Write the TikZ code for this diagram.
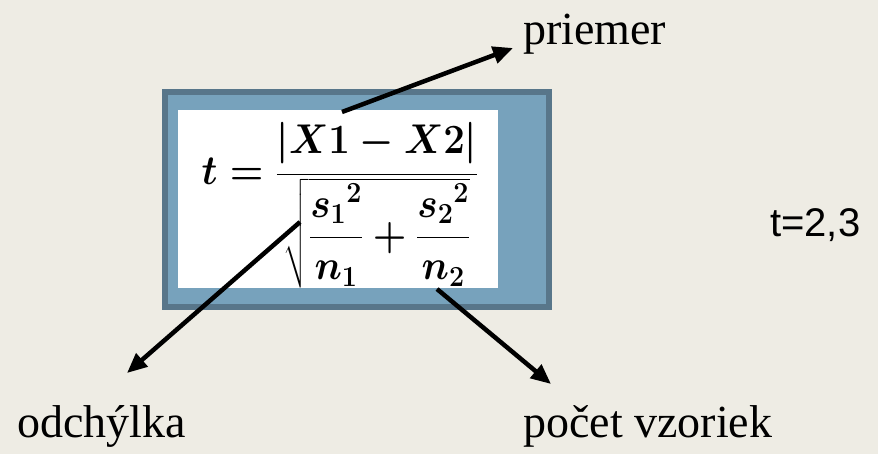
\RequirePackage{fix-cm}
\documentclass[tikz,border=0pt]{standalone}
\usepackage{amsmath}
\usepackage[no-math]{fontspec}
\setmainfont{Liberation Serif}
\newfontfamily\arialfont{Liberation Sans}
\usepackage{xcolor}
\usetikzlibrary{arrows.meta}
\definecolor{bg}{HTML}{EEECE4}
\definecolor{panelfill}{HTML}{77A2BC}
\definecolor{panelline}{HTML}{58768A}
\newcommand{\tformula}{\ensuremath{\displaystyle t=\frac{\lvert X1-X2\rvert}{\sqrt{\dfrac{{s_1}^2}{n_1}+\dfrac{{s_2}^2}{n_2}}}}}
\begin{document}
\begin{tikzpicture}[x=1pt,y=-1pt,lbl/.style={font=\fontsize{46}{50}\selectfont,inner sep=0pt,anchor=base west},arr/.style={line width=4.5pt,-{Triangle[length=20pt,width=17pt]}}]
\useasboundingbox[fill=bg] (0,0) rectangle (878,454);
\node[draw=panelline,line width=6pt,fill=panelfill,minimum width=384pt,minimum height=215pt,inner sep=0pt] (panel) at (357,199.5) {};
\node[fill=white,minimum width=320pt,minimum height=178pt,inner sep=0pt] (card) at (338,199) {};
\node[inner sep=0pt,anchor=base,xscale=0.96,yscale=1.04,font=\fontsize{40}{48}\selectfont\boldmath] (formula) at (340,185) {\tformula};
\node[lbl] (priemer) at (523,45) {priemer};
\node[lbl] (odch) at (17,437) {odchýlka};
\node[lbl] (pocet) at (523,437) {počet vzoriek};
\node[inner sep=0pt,anchor=base west,font=\arialfont\fontsize{40}{44}\selectfont] (tval) at (770,237) {t=2,3};
% arrow ends
\coordinate (a1) at (342,112);
\coordinate (b1) at (513,48);
\coordinate (a2) at (300,222);
\coordinate (b2) at (127,373);
\coordinate (a3) at (437,289);
\coordinate (b3) at (551,384);
\draw[arr] (a1)--(b1);
\draw[arr] (a2)--(b2);
\draw[arr] (a3)--(b3);
\end{tikzpicture}
\end{document}
